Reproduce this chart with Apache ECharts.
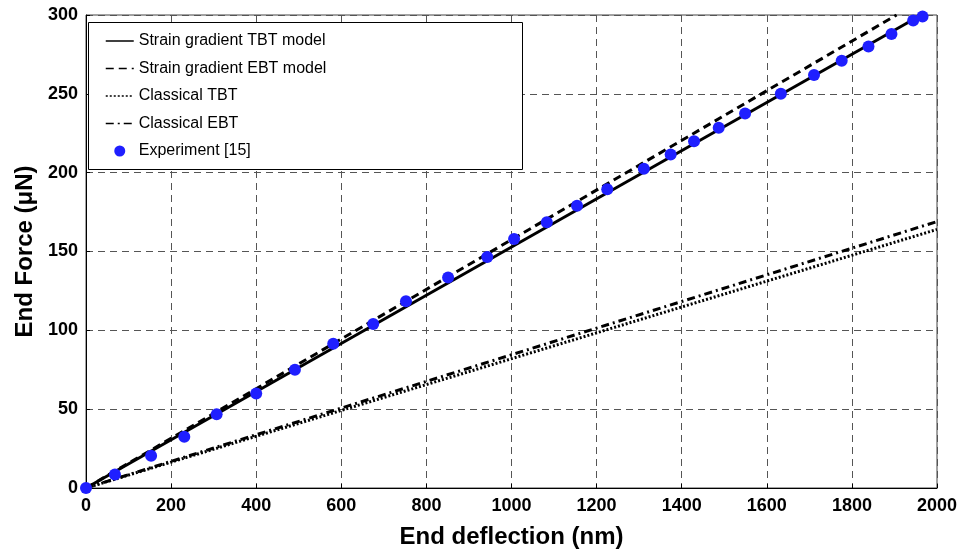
<!DOCTYPE html>
<html>
<head>
<meta charset="utf-8">
<script src="https://cdn.jsdelivr.net/npm/echarts@6/dist/echarts.min.js"></script>
<style>
html,body{margin:0;padding:0;background:#fff;}
#chart{width:962px;height:555px;}
</style>
</head>
<body>
<div id="chart"></div>
<script>
// ---- data ----
var seriesNames = ['Strain gradient TBT model', 'Strain gradient EBT model', 'Classical TBT', 'Classical EBT', 'Experiment [15]'];
var xTicks = [0, 200, 400, 600, 800, 1000, 1200, 1400, 1600, 1800, 2000];
var yTicks = [0, 50, 100, 150, 200, 250, 300];

var sgTbtX = [0, 1963];
var sgTbtY = [0, 300];
var sgEbtX = [0, 1905];
var sgEbtY = [0, 300];
var clTbtX = [0, 2000];
var clTbtY = [0, 164];
var clEbtX = [0, 2000];
var clEbtY = [0, 169];

var expDeflection = [0, 68, 153, 231, 307, 400, 491, 581, 675, 752, 851, 943, 1006, 1083, 1154, 1225, 1311, 1374, 1429, 1487, 1549, 1633, 1711, 1776, 1839, 1893, 1944, 1966];
var expForce = [0, 8.5, 20.5, 32.5, 46.7, 60, 75, 91.5, 104, 118.5, 133.5, 146.5, 158, 168.5, 179, 189.5, 202.5, 211.5, 220, 228.5, 237.5, 250, 262, 271, 280, 288, 296.5, 299];

function pairs(xs, ys) { return xs.map(function (x, i) { return [x, ys[i]]; }); }

var FONT = '"Liberation Sans", Arial, Helvetica, sans-serif';
var chart = echarts.init(document.getElementById('chart'), null, {renderer: 'canvas'});

var gridStyle = {show: true, lineStyle: {color: '#555', width: 1, type: [7, 5]}};
var hiddenSymbol = {color: 'rgba(0,0,0,0)', borderWidth: 0, opacity: 0};

chart.setOption({
  animation: false,
  backgroundColor: '#fff',
  grid: {left: 86, right: 25, top: 15, bottom: 67, show: true, borderColor: '#444', borderWidth: 1, containLabel: false},
  xAxis: {
    type: 'value', min: xTicks[0], max: xTicks[xTicks.length - 1], interval: xTicks[1] - xTicks[0],
    name: 'End deflection (nm)', nameLocation: 'middle', nameGap: 37,
    nameTextStyle: {fontFamily: FONT, fontWeight: 'bold', fontSize: 24, color: '#000'},
    axisLine: {show: true, lineStyle: {color: '#000', width: 1}},
    axisTick: {show: true, inside: true, length: 4, lineStyle: {color: '#000'}},
    axisLabel: {fontFamily: FONT, fontWeight: 'bold', fontSize: 18, color: '#000', margin: 9,
                formatter: function (v) { return String(v); }},
    splitLine: gridStyle
  },
  yAxis: {
    type: 'value', min: yTicks[0], max: yTicks[yTicks.length - 1], interval: yTicks[1] - yTicks[0],
    name: 'End Force (\u03bcN)', nameLocation: 'middle', nameGap: 49,
    nameTextStyle: {fontFamily: FONT, fontWeight: 'bold', fontSize: 24, color: '#000'},
    axisLine: {show: true, lineStyle: {color: '#000', width: 1}},
    axisTick: {show: true, inside: true, length: 4, lineStyle: {color: '#000'}},
    axisLabel: {fontFamily: FONT, fontWeight: 'bold', fontSize: 18, color: '#000', margin: 8,
                formatter: function (v) { return String(v); }},
    splitLine: gridStyle
  },
  legend: {
    orient: 'vertical', left: 105, top: 33, z: 20,
    itemWidth: 28, itemHeight: 11, itemGap: 11.5,
    textStyle: {fontFamily: FONT, fontSize: 16, color: '#000', lineHeight: 16},
    lineStyle: {width: 1.5},
    padding: 0,
    data: [
      {name: seriesNames[0], itemStyle: hiddenSymbol},
      {name: seriesNames[1], itemStyle: hiddenSymbol},
      {name: seriesNames[2], itemStyle: hiddenSymbol},
      {name: seriesNames[3], itemStyle: hiddenSymbol},
      {name: seriesNames[4], icon: 'circle'}
    ]
  },
  graphic: [{
    type: 'rect', left: 88, top: 22, z: 10,
    shape: {width: 434, height: 147},
    style: {fill: '#fff', stroke: '#000', lineWidth: 1}
  }],
  series: [
    {name: seriesNames[0], type: 'line', data: pairs(sgTbtX, sgTbtY), symbol: 'none',
     lineStyle: {color: '#000', width: 3, type: 'solid'}, itemStyle: {color: '#000'}},
    {name: seriesNames[1], type: 'line', data: pairs(sgEbtX, sgEbtY), symbol: 'none',
     lineStyle: {color: '#000', width: 3, type: [8, 5]}, itemStyle: {color: '#000'}},
    {name: seriesNames[2], type: 'line', data: pairs(clTbtX, clTbtY), symbol: 'none',
     lineStyle: {color: '#000', width: 3, type: [2, 2]}, itemStyle: {color: '#000'}},
    {name: seriesNames[3], type: 'line', data: pairs(clEbtX, clEbtY), symbol: 'none',
     lineStyle: {color: '#000', width: 3, type: [8, 4, 2, 4]}, itemStyle: {color: '#000'}},
    {name: seriesNames[4], type: 'scatter', data: pairs(expDeflection, expForce), symbol: 'circle', symbolSize: 12,
     itemStyle: {color: '#1f1fff', opacity: 1}, z: 3}
  ]
});
</script>
</body>
</html>
